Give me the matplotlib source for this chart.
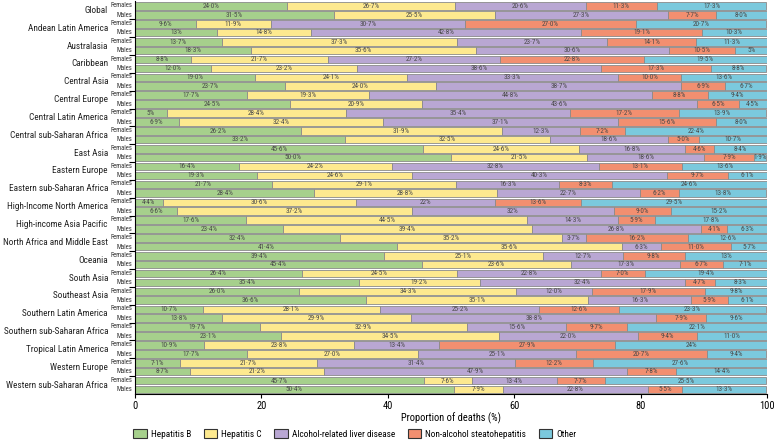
import matplotlib
matplotlib.use("Agg")
import matplotlib.pyplot as plt
from matplotlib import font_manager
from matplotlib.font_manager import FontProperties
from matplotlib.patches import Patch
import matplotlib.transforms as mtransforms

# ---- pick a condensed sans font if one is installed ----
cond_path = None
prefs = ['Liberation Sans Narrow', 'DejaVu Sans Condensed', 'Roboto Condensed', 'Open Sans Condensed',
         'Noto Sans Condensed', 'Noto Sans', 'DejaVu Sans', 'Roboto', 'Open Sans']
cands = []
for f in font_manager.fontManager.ttflist:
    narrow = ('Narrow' in f.name or 'Condensed' in f.name or
              f.stretch in ('condensed', 'semi-condensed') or
              'Condensed' in f.fname or 'Narrow' in f.fname)
    if not narrow:
        continue
    if f.style != 'normal' or f.weight not in (400, 'normal', 'regular'):
        continue
    if 'Extra' in f.fname or 'Semi' in f.fname or 'Bold' in f.fname or 'Italic' in f.fname:
        continue
    if 'CJK' in f.name or 'Mono' in f.name or 'Serif' in f.name:
        continue
    rank = len(prefs)
    for k, p in enumerate(prefs):
        if f.name.startswith(p.split(' Condensed')[0]) and (p in f.name or k >= 4):
            rank = k
            break
    cands.append((rank, f.fname))
if cands:
    cands.sort()
    cond_path = cands[0][1]


def F(size):
    if cond_path:
        return FontProperties(fname=cond_path, size=size)
    return FontProperties(family=['Liberation Sans', 'DejaVu Sans'], size=size)


regions = ["Global", "Andean Latin America", "Australasia", "Caribbean", "Central Asia",
           "Central Europe", "Central Latin America", "Central sub-Saharan Africa", "East Asia",
           "Eastern Europe", "Eastern sub-Saharan Africa", "High-Income North America",
           "High-income Asia Pacific", "North Africa and Middle East", "Oceania", "South Asia",
           "Southeast Asia", "Southern Latin America", "Southern sub-Saharan Africa",
           "Tropical Latin America", "Western Europe", "Western sub-Saharan Africa"]
causes = ["Hepatitis B", "Hepatitis C", "Alcohol-related liver disease",
          "Non-alcohol steatohepatitis", "Other"]

# values per region: [Hep B, Hep C, Alcohol, NASH, Other]
females = [
    ["24.0", "26.7", "20.6", "11.3", "17.3"],
    ["9.6", "11.9", "30.7", "27.0", "20.7"],
    ["13.7", "37.3", "23.7", "14.1", "11.3"],
    ["8.8", "21.7", "27.2", "22.8", "19.5"],
    ["19.0", "24.1", "33.3", "10.0", "13.6"],
    ["17.7", "19.3", "44.8", "8.8", "9.4"],
    ["5", "28.4", "35.4", "17.2", "13.9"],
    ["26.2", "31.9", "12.3", "7.2", "22.4"],
    ["45.6", "24.6", "16.8", "4.6", "8.4"],
    ["16.4", "24.2", "32.8", "13.1", "13.6"],
    ["21.7", "29.1", "16.3", "8.3", "24.6"],
    ["4.4", "30.6", "22", "13.6", "29.5"],
    ["17.6", "44.5", "14.3", "5.9", "17.8"],
    ["32.4", "35.2", "3.7", "16.2", "12.6"],
    ["39.4", "25.1", "12.7", "9.8", "13"],
    ["26.4", "24.5", "22.8", "7.0", "19.4"],
    ["26.0", "34.3", "12.0", "17.9", "9.8"],
    ["10.7", "28.1", "25.2", "12.6", "23.3"],
    ["19.7", "32.9", "15.6", "9.7", "22.1"],
    ["10.9", "23.8", "13.4", "27.9", "24"],
    ["7.1", "21.7", "31.4", "12.2", "27.6"],
    ["45.7", "7.6", "13.4", "7.7", "25.5"],
]
males = [
    ["31.5", "25.5", "27.3", "7.7", "8.0"],
    ["13", "14.8", "42.8", "19.1", "10.3"],
    ["18.3", "35.6", "30.6", "10.5", "5"],
    ["12.0", "23.2", "38.6", "17.3", "8.8"],
    ["23.7", "24.0", "38.7", "6.9", "6.7"],
    ["24.5", "20.9", "43.6", "6.5", "4.5"],
    ["6.9", "32.4", "37.1", "15.6", "8.0"],
    ["33.2", "32.5", "18.6", "5.0", "10.7"],
    ["50.0", "21.5", "18.6", "7.9", "1.9"],
    ["19.3", "24.6", "40.3", "9.7", "6.1"],
    ["28.4", "28.8", "22.7", "6.2", "13.8"],
    ["6.6", "37.2", "32", "9.0", "15.2"],
    ["23.4", "39.4", "26.8", "4.1", "6.3"],
    ["41.4", "35.6", "6.3", "11.0", "5.7"],
    ["45.4", "23.6", "17.3", "6.7", "7.1"],
    ["35.4", "19.2", "32.4", "4.7", "8.3"],
    ["36.6", "35.1", "16.3", "5.9", "6.1"],
    ["13.8", "29.9", "38.8", "7.9", "9.6"],
    ["23.1", "34.5", "22.0", "9.4", "11.0"],
    ["17.7", "27.0", "25.1", "20.7", "9.4"],
    ["8.7", "21.2", "47.9", "7.8", "14.4"],
    ["50.4", "7.9", "22.8", "5.5", "13.3"],
]
xticks = [0, 20, 40, 60, 80, 100]

colors = ["#a6d08c", "#fde98f", "#b9a7d3", "#f28f70", "#7bc9dd"]
edge = "#8a8a8a"

fig = plt.figure(figsize=(7.77, 4.40), dpi=100)
W, H = 777, 440
ax = fig.add_axes([135 / W, 46 / H, 632 / W, (438.5 - 46) / H])

pitch = 18.0
bh = 7.6
yf = [pitch * i + 4.6 for i in range(len(regions))]
ym = [pitch * i + 13.4 for i in range(len(regions))]

for ys, data in ((yf, females), (ym, males)):
    for y, row in zip(ys, data):
        left = 0.0
        for j, s in enumerate(row):
            v = float(s)
            ax.barh(y, v, left=left, height=bh, color=colors[j], edgecolor=edge, linewidth=0.6)
            ax.text(left + v / 2, y + 0.3, s.replace('.', '\u00b7') + '%', ha='center', va='center',
                    fontproperties=F(5.2), color='#4a4a4a')
            left += v

ax.set_xlim(0, 100)
ax.set_ylim(pitch * len(regions), 0)
ax.set_xticks(xticks)
ax.set_xticklabels([str(t) for t in xticks])
for lab in ax.get_xticklabels():
    lab.set_fontproperties(F(7.5))
ax.set_yticks([pitch * i for i in range(1, len(regions))])
ax.set_yticklabels([])
ax.tick_params(axis='y', length=4, width=0.8)
ax.tick_params(axis='x', length=3, width=0.8, pad=2)
ax.spines['top'].set_visible(False)
ax.spines['right'].set_visible(False)
ax.set_xlabel("Proportion of deaths (%)", fontproperties=F(7.5), labelpad=1)

tr = mtransforms.blended_transform_factory(fig.transFigure, ax.transData)
reg_texts = []
for i, r in enumerate(regions):
    t = ax.text(108 / W, (yf[i] + ym[i]) / 2, r, transform=tr, ha='right', va='center',
                fontproperties=F(8.5), color='#222222')
    reg_texts.append(t)
    ax.text(132 / W, yf[i] - 0.5, "Females", transform=tr, ha='right', va='center',
            fontproperties=F(4.8), color='#333333')
    ax.text(132 / W, ym[i] + 0.3, "Males", transform=tr, ha='right', va='center',
            fontproperties=F(4.8), color='#333333')

handles = [Patch(facecolor=c, edgecolor='#333333', linewidth=0.8, label=l) for c, l in zip(colors, causes)]
leg = fig.legend(handles=handles, loc='center left', bbox_to_anchor=(133 / W, 1 - 434 / H), ncol=5,
                 frameon=False, prop=F(7.5), handlelength=1.3, handleheight=0.9, handletextpad=0.4,
                 columnspacing=1.2, borderaxespad=0, borderpad=0)

# fit region labels into the space the reference gives them (~104 px for the longest)
fig.canvas.draw()
r = fig.canvas.get_renderer()
widest = max(t.get_window_extent(r).width for t in reg_texts)
if widest > 104:
    s = 8.5 * 104 / widest
    for t in reg_texts:
        t.set_fontsize(s)
lw = leg.get_window_extent(r).width
if lw > 425:
    for t in leg.get_texts():
        t.set_fontsize(7.5 * 425 / lw)

fig.savefig("out.png", dpi=100)
